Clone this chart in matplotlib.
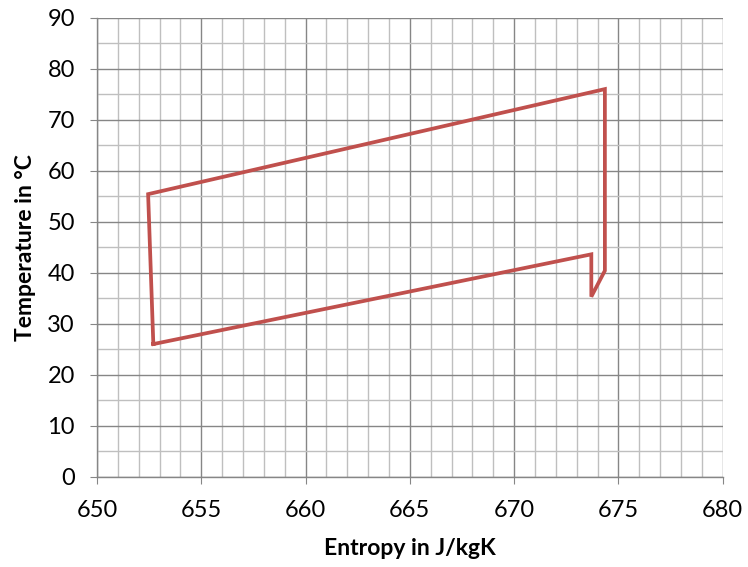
import numpy as np
import matplotlib.pyplot as plt
from matplotlib.ticker import MultipleLocator

# cycle points (entropy, temperature)
entropy = [652.7, 673.7, 673.7, 674.35, 674.35, 652.45, 652.7]
temperature = [26.0, 43.6, 35.3, 40.4, 76.0, 55.4, 26.0]

plt.rcParams['font.family'] = ['Lato', 'DejaVu Sans']

fig = plt.figure(figsize=(7.48, 5.67), dpi=100)
ax = fig.add_axes([0.1297, 0.1593, 0.8365, 0.8095])

ax.plot(entropy, temperature, color='#C0504D', lw=2.7, solid_joinstyle='miter')

ax.set_xlim(650, 680)
ax.set_ylim(0, 90)
ax.xaxis.set_major_locator(MultipleLocator(5))
ax.xaxis.set_minor_locator(MultipleLocator(1))
ax.yaxis.set_major_locator(MultipleLocator(10))
ax.yaxis.set_minor_locator(MultipleLocator(5))

ax.grid(which='major', color='#868686', lw=1.0)
ax.grid(which='minor', color='#BFBFBF', lw=1.0)
ax.set_axisbelow(True)

for s in ['top', 'right']:
    ax.spines[s].set_visible(False)
for s in ['left', 'bottom']:
    ax.spines[s].set_color('#868686')
    ax.spines[s].set_linewidth(1.0)

ax.tick_params(which='major', direction='out', length=5, color='#868686',
               labelsize=17)
ax.tick_params(which='minor', length=0)
ax.tick_params(axis='x', pad=12)
ax.tick_params(axis='y', pad=11)

ax.set_xlabel('Entropy in J/kgK', fontsize=16.5, fontweight='bold', labelpad=12)
ax.set_ylabel('Temperature in °C', fontsize=16.5, fontweight='bold', labelpad=8)

fig.savefig('out.png', dpi=100)
